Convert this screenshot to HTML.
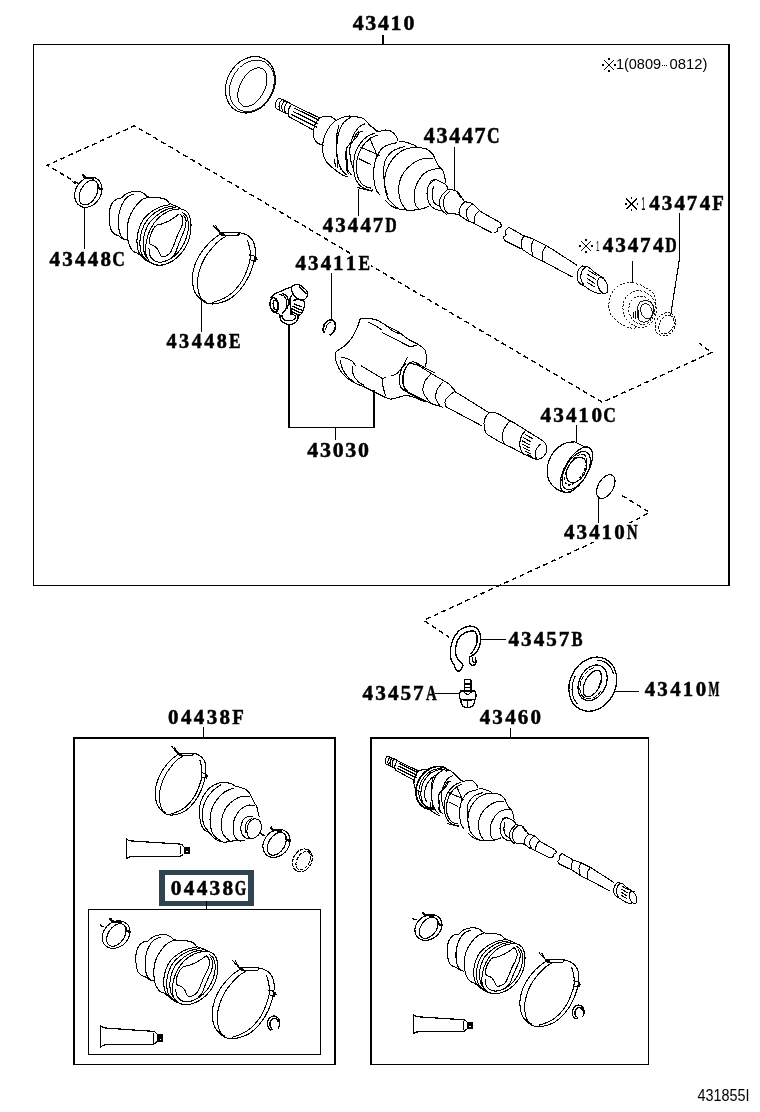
<!DOCTYPE html>
<html><head><meta charset="utf-8"><style>
html,body{margin:0;padding:0;background:#fff;}
svg{display:block;will-change:transform;}
path,ellipse,rect,circle{vector-effect:non-scaling-stroke;shape-rendering:crispEdges;}
</style></head><body>
<svg width="760" height="1112" viewBox="0 0 760 1112">
<rect width="760" height="1112" fill="#fff"/>

<g fill="#000">
<rect x="33" y="44" width="697" height="1"/>
<rect x="33" y="44" width="1" height="542"/>
<rect x="728" y="44" width="2" height="542"/>
<rect x="33" y="584.5" width="697" height="1.5"/>
<rect x="73" y="737" width="263" height="2"/>
<rect x="73" y="737" width="2" height="328"/>
<rect x="334" y="737" width="2" height="328"/>
<rect x="73" y="1063.5" width="263" height="1.5"/>
<rect x="370" y="737" width="279" height="2"/>
<rect x="370" y="737" width="1.5" height="328"/>
<rect x="648" y="737" width="1" height="328"/>
<rect x="370" y="1063.5" width="279" height="1.5"/>
<rect x="88" y="908.5" width="233" height="1.3"/>
<rect x="88" y="908.5" width="1.2" height="146.5"/>
<rect x="320" y="908.5" width="1.2" height="146.5"/>
<rect x="88" y="1053.8" width="233" height="1.2"/>
</g>
<path d="M159 870H254V906H159ZM165 875V901H248V875Z" fill="#2e4451" fill-rule="evenodd"/>


<g fill="#000">
<rect x="382" y="35" width="2" height="9"/>
<rect x="454" y="147" width="1" height="43"/>
<rect x="358" y="189" width="1" height="27"/>
<rect x="632" y="261" width="1" height="21"/>
<rect x="84" y="208" width="1" height="41"/>
<rect x="331" y="273.3" width="1" height="47"/>
<rect x="201" y="301" width="1" height="31"/>
<rect x="288" y="323.7" width="2" height="104.6"/>
<rect x="373" y="390" width="2" height="38.3"/>
<rect x="288" y="426.6" width="87" height="1.7"/>
<rect x="335" y="428" width="1" height="11.7"/>
<rect x="576" y="425" width="1" height="17"/>
<rect x="598" y="497" width="1" height="26.4"/>
<rect x="481" y="639" width="25" height="1"/>
<rect x="435" y="693" width="24.5" height="1"/>
<rect x="614" y="691" width="25" height="1"/>
<rect x="203" y="727" width="1" height="10"/>
<rect x="510" y="727.5" width="1" height="10"/>
<rect x="206" y="901" width="1" height="7.5"/>
</g>
<path d="M679.5 213V258.7L670.6 315.5" stroke="#000" stroke-width="1.1" fill="none"/>
<g stroke="#000" stroke-width="1.4" fill="none" stroke-dasharray="5 3.6">
<path d="M78.7 183.7L47 165.3L134.5 125.8L602.3 402.3L711.6 352.6L699.4 343.2"/>
<path d="M622 495.4L649.5 512.5L591.3 543.3L423.7 620.3L449.3 637.4"/>
</g>

<defs><g id="bootT" stroke="#000" fill="none" stroke-width="1.05"><path d="M18.75 14.38C19.48 13.75 21.35 11.6 23.12 10.62C24.9 9.65 27.19 8.85 29.38 8.5C31.56 8.15 34.44 8.21 36.25 8.5C38.06 8.79 39.21 9.62 40.25 10.25C41.29 10.88 41.29 11.62 42.5 12.25C43.71 12.88 45.42 13.71 47.5 14C49.58 14.29 52.71 13.73 55 14C57.29 14.27 59.69 14.83 61.25 15.62C62.81 16.42 63.33 17.98 64.38 18.75C65.42 19.52 66.25 19.73 67.5 20.25C68.75 20.77 70.52 21.29 71.88 21.88C73.23 22.46 75 23.44 75.62 23.75" />
<path d="M18.75 14.38C18.02 14.52 15.73 14.62 14.38 15.25C13.02 15.88 11.67 16.81 10.62 18.12C9.58 19.44 8.69 21.15 8.12 23.12C7.56 25.1 7.31 27.6 7.25 30C7.19 32.4 7.4 35.31 7.75 37.5C8.1 39.69 8.58 41.67 9.38 43.12C10.17 44.58 11.35 45.48 12.5 46.25C13.65 47.02 15 47.08 16.25 47.75C17.5 48.42 18.65 49.62 20 50.25C21.35 50.88 23.65 51.29 24.38 51.5" />
<path d="M30.62 10.62C29.58 11.1 26.25 11.94 24.38 13.5C22.5 15.06 20.69 17.46 19.38 20C18.06 22.54 17.06 25.83 16.5 28.75C15.94 31.67 15.88 34.79 16 37.5C16.12 40.21 16.58 42.96 17.25 45C17.92 47.04 18.81 48.67 20 49.75C21.19 50.83 23.65 51.21 24.38 51.5" />
<path d="M45 13.12C43.75 13.65 39.9 14.48 37.5 16.25C35.1 18.02 32.54 21.04 30.62 23.75C28.71 26.46 27.04 29.58 26 32.5C24.96 35.42 24.58 38.33 24.38 41.25C24.17 44.17 24.4 47.5 24.75 50C25.1 52.5 25.62 54.38 26.5 56.25C27.38 58.12 28.69 60.1 30 61.25C31.31 62.4 33.65 62.81 34.38 63.12" />
<path d="M34.38 63.12C34.9 63.54 36.35 64.69 37.5 65.62C38.65 66.56 39.79 67.77 41.25 68.75C42.71 69.73 44.38 70.71 46.25 71.5C48.12 72.29 50.42 73.17 52.5 73.5C54.58 73.83 57.71 73.5 58.75 73.5" />
<path d="M65 20C63.54 20.31 59.17 20.83 56.25 21.88C53.33 22.92 50.21 24.44 47.5 26.25C44.79 28.06 41.98 30.25 40 32.75C38.02 35.25 36.67 38.38 35.62 41.25C34.58 44.12 33.98 47.08 33.75 50C33.52 52.92 33.79 56.42 34.25 58.75C34.71 61.08 35.33 62.38 36.5 64C37.67 65.62 40.46 67.75 41.25 68.5" />
<path d="M68.12 21.25C66.56 21.58 61.77 22.17 58.75 23.25C55.73 24.33 52.67 25.88 50 27.75C47.33 29.62 44.71 31.92 42.75 34.5C40.79 37.08 39.29 40.25 38.25 43.25C37.21 46.25 36.67 49.5 36.5 52.5C36.33 55.5 36.67 58.92 37.25 61.25C37.83 63.58 38.88 65.12 40 66.5C41.12 67.88 43.33 69 44 69.5" />
<path d="M70.62 22.5C69.1 22.83 64.48 23.33 61.5 24.5C58.52 25.67 55.46 27.5 52.75 29.5C50.04 31.5 47.21 33.88 45.25 36.5C43.29 39.12 41.96 42.17 41 45.25C40.04 48.33 39.54 52.02 39.5 55C39.46 57.98 40 60.88 40.75 63.12C41.5 65.38 43.46 67.6 44 68.5" />
<path d="M75 23.75C75.83 24.06 78.58 24.58 80 25.62C81.42 26.67 82.67 28.02 83.5 30C84.33 31.98 84.92 34.58 85 37.5C85.08 40.42 84.73 44.38 84 47.5C83.27 50.62 82.12 53.5 80.62 56.25C79.12 59 77.19 61.71 75 64C72.81 66.29 70.21 68.42 67.5 70C64.79 71.58 61.25 72.88 58.75 73.5C56.25 74.12 54.48 74.08 52.5 73.75C50.52 73.42 48.38 72.54 46.88 71.5C45.38 70.46 44.31 69 43.5 67.5C42.69 66 42.21 64.58 42 62.5C41.79 60.42 41.92 57.5 42.25 55C42.58 52.5 43.12 50 44 47.5C44.88 45 46.08 42.33 47.5 40C48.92 37.67 50.62 35.42 52.5 33.5C54.38 31.58 56.46 29.92 58.75 28.5C61.04 27.08 63.54 25.79 66.25 25C68.96 24.21 73.54 23.96 75 23.75" />
<path d="M76.5 26.75C77.19 27.29 79.62 28.42 80.62 30C81.62 31.58 82.29 33.75 82.5 36.25C82.71 38.75 82.5 42.08 81.88 45C81.25 47.92 80.1 51.04 78.75 53.75C77.4 56.46 75.62 59.06 73.75 61.25C71.88 63.44 69.79 65.35 67.5 66.88C65.21 68.4 62.25 69.69 60 70.38C57.75 71.06 55.83 71.23 54 71C52.17 70.77 50.33 70 49 69C47.67 68 46.67 66.71 46 65C45.33 63.29 45.17 59.79 45 58.75" />
<path d="M74 28C74.42 28.46 76 29.38 76.5 30.75C77 32.12 77.21 34.46 77 36.25C76.79 38.04 76 39.79 75.25 41.5C74.5 43.21 73.38 44.67 72.5 46.5C71.62 48.33 70.83 50.5 70 52.5C69.17 54.5 68.33 56.75 67.5 58.5C66.67 60.25 66.04 61.83 65 63C63.96 64.17 62.54 64.96 61.25 65.5C59.96 66.04 58.25 66.58 57.25 66.25C56.25 65.92 55.88 64.54 55.25 63.5C54.62 62.46 54.29 61.08 53.5 60C52.71 58.92 51.5 57.71 50.5 57C49.5 56.29 48.33 56.29 47.5 55.75C46.67 55.21 45.71 55.08 45.5 53.75C45.29 52.42 45.62 49.79 46.25 47.75C46.88 45.71 48.21 43.08 49.25 41.5C50.29 39.92 51.08 39 52.5 38.25C53.92 37.5 55.83 37.62 57.75 37C59.67 36.38 62.04 35.46 64 34.5C65.96 33.54 67.83 32.33 69.5 31.25C71.17 30.17 73.25 28.54 74 28" />
<path d="M78 29.5C78.38 30.25 80.04 32.04 80.25 34C80.46 35.96 79.96 38.79 79.25 41.25C78.54 43.71 77.08 46.25 76 48.75C74.92 51.25 73.75 53.85 72.75 56.25C71.75 58.65 71.08 61.35 70 63.12C68.92 64.9 66.88 66.25 66.25 66.88" /></g><g id="clampS" stroke="#000" fill="none" stroke-width="1.1"><ellipse cx="88.3" cy="192.2" rx="16" ry="12.6" transform="rotate(-58 88.3 192.2)" />
<ellipse cx="88.6" cy="192.6" rx="13.3" ry="8.2" transform="rotate(-62 88.6 192.6)" />
<path d="M82.2 174.2C82.5 174.58 83.37 175.78 84 176.5C84.63 177.22 85.67 178.17 86 178.5" stroke-width="2.2"/>
<path d="M85.5 178 L92.5 178.4 L93 180" stroke-width="2"/>
<path d="M97.5 184.5 L98.5 188 L101.5 189.5 L102.5 188" stroke-width="2.2"/>
<path d="M72.2 181.3 L74.5 183 L76.5 183.2" stroke-width="1.2"/></g><g id="clampB" stroke="#000" fill="none" stroke-width="1.05"><path d="M238.75 232.5C239.58 232.71 242.08 233.12 243.75 233.75C245.42 234.38 247.19 235 248.75 236.25C250.31 237.5 252.08 239.38 253.12 241.25C254.17 243.12 254.69 245 255 247.5C255.31 250 255.31 253.33 255 256.25C254.69 259.17 254.06 261.88 253.12 265C252.19 268.12 250.94 271.67 249.38 275C247.81 278.33 245.73 282.08 243.75 285C241.77 287.92 239.79 290.21 237.5 292.5C235.21 294.79 232.71 297.08 230 298.75C227.29 300.42 224.17 301.62 221.25 302.5C218.33 303.38 215.21 304 212.5 304C209.79 304 207.29 303.58 205 302.5C202.71 301.42 200.52 299.38 198.75 297.5C196.98 295.62 195.42 293.96 194.38 291.25C193.33 288.54 192.71 284.58 192.5 281.25C192.29 277.92 192.29 275 193.12 271.25C193.96 267.5 195.52 262.71 197.5 258.75C199.48 254.79 202.29 250.83 205 247.5C207.71 244.17 211.04 241.04 213.75 238.75C216.46 236.46 220 234.58 221.25 233.75" />
<path d="M226.25 236.25C225.21 236.88 222.29 238.12 220 240C217.71 241.88 215 244.58 212.5 247.5C210 250.42 207.08 253.96 205 257.5C202.92 261.04 201.25 265 200 268.75C198.75 272.5 197.81 276.46 197.5 280C197.19 283.54 197.6 287.08 198.12 290C198.65 292.92 199.38 295.52 200.62 297.5C201.88 299.48 204.79 301.15 205.62 301.88" />
<path d="M247.5 240C247.92 241.67 249.58 246.67 250 250C250.42 253.33 250.42 256.88 250 260C249.58 263.12 248.75 265.42 247.5 268.75C246.25 272.08 244.58 276.46 242.5 280C240.42 283.54 237.5 287.29 235 290C232.5 292.71 230 294.58 227.5 296.25C225 297.92 222.5 298.96 220 300C217.5 301.04 213.75 302.08 212.5 302.5" />
<path d="M221.25 232.75 L240 232.5" />
<path d="M221.25 235.25 L238.75 235" />
<path d="M238.75 232.5 L239.38 235" />
<path d="M221.25 233.75C220.62 233.12 218.71 231.21 217.5 230C216.29 228.79 214.79 227.42 214 226.5C213.21 225.58 212.96 224.83 212.75 224.5" />
<path d="M215.62 225.25C215.94 225.79 216.81 227.54 217.5 228.5C218.19 229.46 219.38 230.58 219.75 231" />
<path d="M249.38 255 L255 256.25 L255.62 261.25 L250.62 260.62" /><path d="M220 232.5 L224.38 235" stroke-width="2.5"/><path d="M255 256.88 L256.5 260" stroke-width="2.5"/></g><g id="tube" stroke="#000" fill="none" stroke-width="1.2"><path d="M100.4 1025.4 L100.4 1047.6" />
<path d="M100.4 1025.6C100.75 1025.87 101.73 1026.8 102.5 1027.2C103.27 1027.6 104.58 1027.87 105 1028L152.3 1031.3" />
<path d="M100.4 1047.4C100.75 1047.1 101.73 1046.02 102.5 1045.6C103.27 1045.18 104.58 1045.02 105 1044.9L152.3 1044.5" />
<path d="M152.3 1031.3C152.75 1031.42 154.28 1031.55 155 1032C155.72 1032.45 156.33 1033.67 156.6 1034" />
<path d="M152.3 1044.5C152.75 1044.33 154.28 1044 155 1043.5C155.72 1043 156.33 1041.83 156.6 1041.5" />
<path d="M153.4 1033 L153.4 1042.5" /><rect x="157.2" y="1034.3" width="5.9" height="7.4" fill="#000" stroke="none"/><rect x="159.5" y="1038.5" width="1.2" height="1.2" fill="#fff" stroke="none"/></g><g id="shaftA" stroke="#000" fill="none" stroke-width="1.05"><path d="M280.25 98.5C279.83 98.58 278.46 98.44 277.75 99C277.04 99.56 276.42 100.77 276 101.88C275.58 102.98 275.21 104.48 275.25 105.62C275.29 106.77 276.08 108.23 276.25 108.75" />
<path d="M280.25 98.5 L290.62 103.5" />
<path d="M276.25 108.75 L287.5 114" />
<path d="M281.88 99.75C281.52 100.21 280.23 101.42 279.75 102.5C279.27 103.58 279 105.04 279 106.25C279 107.46 279.62 109.17 279.75 109.75" />
<path d="M284.62 100.99C284.27 101.45 282.98 102.65 282.5 103.74C282.02 104.82 281.75 106.28 281.75 107.49C281.75 108.7 282.38 110.4 282.5 110.99" />
<path d="M287.38 102.22C287.02 102.68 285.73 103.89 285.25 104.97C284.77 106.06 284.5 107.52 284.5 108.72C284.5 109.93 285.12 111.64 285.25 112.22" />
<path d="M291.5 104.38C291.15 104.9 289.94 106.25 289.38 107.5C288.81 108.75 288.23 110.38 288.12 111.88C288.02 113.38 288.65 115.73 288.75 116.5" />
<path d="M291.5 104.38 L320 118.12" />
<path d="M288.75 116.5 L314.38 130.62" />
<path d="M293.75 107.75 L319 120.25" />
<path d="M292.75 111.25 L318.12 123.75" />
<path d="M291.5 114.5 L316.88 127.25" />
<path d="M319 118.5C319.58 118.21 320.88 117.12 322.5 116.75C324.12 116.38 326.88 116 328.75 116.25C330.62 116.5 332.6 117.52 333.75 118.25C334.9 118.98 335.31 120.23 335.62 120.62" />
<path d="M319 118.5C318.38 119.38 316.17 121.62 315.25 123.75C314.33 125.88 313.71 128.85 313.5 131.25C313.29 133.65 313.44 136.25 314 138.12C314.56 140 315.67 141.4 316.88 142.5C318.08 143.6 320.1 144.29 321.25 144.75C322.4 145.21 323.33 145.17 323.75 145.25" />
<path d="M335.62 120.62C334.69 121.56 331.77 123.85 330 126.25C328.23 128.65 326.25 131.67 325 135C323.75 138.33 322.71 142.71 322.5 146.25C322.29 149.79 322.92 153.44 323.75 156.25C324.58 159.06 325.83 161.04 327.5 163.12C329.17 165.21 331.88 167.19 333.75 168.75C335.62 170.31 337.08 171.35 338.75 172.5C340.42 173.65 342.29 174.9 343.75 175.62C345.21 176.35 346.88 176.67 347.5 176.88" />
<path d="M335.62 120.62C336.77 120.1 340.31 118.27 342.5 117.5C344.69 116.73 346.46 116.1 348.75 116C351.04 115.9 354.17 116.62 356.25 116.88C358.33 117.12 359.79 116.98 361.25 117.5C362.71 118.02 363.75 118.96 365 120C366.25 121.04 367.08 122.08 368.75 123.75C370.42 125.42 373.44 128.65 375 130C376.56 131.35 377.6 131.56 378.12 131.88" />
<path d="M351.25 116.88C350 117.81 345.83 119.9 343.75 122.5C341.67 125.1 339.9 128.54 338.75 132.5C337.6 136.46 337.08 141.88 336.88 146.25C336.67 150.62 336.77 155 337.5 158.75C338.23 162.5 339.79 166.04 341.25 168.75C342.71 171.46 345.42 173.96 346.25 175" />
<path d="M362.5 131.25C361.92 131.5 360.04 131.67 359 132.75C357.96 133.83 357.54 136.12 356.25 137.75C354.96 139.38 352.79 140.88 351.25 142.5C349.71 144.12 347.83 145.42 347 147.5C346.17 149.58 346.17 152.5 346.25 155C346.33 157.5 347.33 160.21 347.5 162.5C347.67 164.79 346.62 166.67 347.25 168.75C347.88 170.83 350.58 173.96 351.25 175" />
<path d="M365 123.75C364.17 124.17 361.56 125 360 126.25C358.44 127.5 356.77 129.58 355.62 131.25C354.48 132.92 354.02 133.96 353.12 136.25C352.23 138.54 350.77 141.88 350.25 145C349.73 148.12 349.83 152.08 350 155C350.17 157.92 350.62 160 351.25 162.5C351.88 165 353.33 168.75 353.75 170" />
<path d="M375 133.12C373.75 133.65 370 134.48 367.5 136.25C365 138.02 362.08 140.83 360 143.75C357.92 146.67 356.04 150.42 355 153.75C353.96 157.08 353.85 160.21 353.75 163.75C353.65 167.29 353.75 171.88 354.38 175C355 178.12 356.15 180.42 357.5 182.5C358.85 184.58 360.62 186.25 362.5 187.5C364.38 188.75 367.08 189.58 368.75 190C370.42 190.42 371.88 190 372.5 190" />
<path d="M377.5 135C376.25 135.62 372.5 136.88 370 138.75C367.5 140.62 364.58 143.12 362.5 146.25C360.42 149.38 358.54 153.96 357.5 157.5C356.46 161.04 356.25 164.38 356.25 167.5C356.25 170.62 356.67 173.65 357.5 176.25C358.33 178.85 359.79 181.35 361.25 183.12C362.71 184.9 364.58 186.04 366.25 186.88C367.92 187.71 370.42 187.92 371.25 188.12" />
<path d="M360 146.88 L380 155.62" />
<path d="M359 158.75 L371.25 164.75" />
<path d="M367.5 123.75 L378.12 131.5" />
<path d="M357.5 187.5 L372.5 191.25" />
<path d="M378.12 131.88C379.27 131.56 382.81 130.1 385 130C387.19 129.9 389.38 130.21 391.25 131.25C393.12 132.29 395.1 134.58 396.25 136.25C397.4 137.92 397.81 140.42 398.12 141.25" />
<path d="M397.5 142.5C395.42 143.12 388.33 144.17 385 146.25C381.67 148.33 379.33 151.46 377.5 155C375.67 158.54 374.58 163.33 374 167.5C373.42 171.67 373.62 176.25 374 180C374.38 183.75 375.25 187.5 376.25 190C377.25 192.5 379.38 194.17 380 195" />
<path d="M405 146.25C402.92 147.08 395.83 148.75 392.5 151.25C389.17 153.75 386.46 157.5 385 161.25C383.54 165 383.75 169.58 383.75 173.75C383.75 177.92 384.38 182.71 385 186.25C385.62 189.79 387.08 193.54 387.5 195" />
<path d="M370 137.5C370.42 138.75 371.67 142.92 372.5 145C373.33 147.08 374.17 147.92 375 150C375.83 152.08 377.08 156.25 377.5 157.5" />
<path d="M334.7 158.9 L335.3 167.4" />
<path d="M337.4 156.8 L337.9 168.4" />
<path d="M339 125.3C338.63 126.87 337.25 131.02 336.8 134.7C336.35 138.38 336.2 143.37 336.3 147.4C336.4 151.43 336.62 155.22 337.4 158.9C338.18 162.58 340.4 167.73 341 169.5" />
<path d="M358.9 131.6C358.38 132.12 356.85 132.95 355.8 134.7C354.75 136.45 353.65 140.52 352.6 142.1C351.55 143.68 350.55 142.97 349.5 144.2C348.45 145.43 347 147.4 346.3 149.5C345.6 151.6 345.22 154.52 345.3 156.8C345.38 159.08 346.63 161.27 346.8 163.2C346.97 165.13 346.03 166.65 346.3 168.4C346.57 170.15 348.05 172.82 348.4 173.7" />
<path d="M398.75 141.88C399.38 141.77 400 140.73 402.5 141.25C405 141.77 411.25 143.96 413.75 145C416.25 146.04 415.42 146.88 417.5 147.5C419.58 148.12 423.75 147.71 426.25 148.75C428.75 149.79 431.04 152.08 432.5 153.75C433.96 155.42 433.96 156.67 435 158.75C436.04 160.83 437.5 164.38 438.75 166.25C440 168.12 441.56 168.54 442.5 170C443.44 171.46 443.85 172.92 444.38 175C444.9 177.08 445.42 181.25 445.62 182.5" />
<path d="M385 200C385.83 200.83 387.92 203.54 390 205C392.08 206.46 394.79 207.92 397.5 208.75C400.21 209.58 403.33 209.79 406.25 210C409.17 210.21 412.29 210.21 415 210C417.71 209.79 420.21 209.38 422.5 208.75C424.79 208.12 427.71 206.67 428.75 206.25" />
<path d="M417.5 147.5C415.62 147.71 409.79 147.5 406.25 148.75C402.71 150 399.17 152.29 396.25 155C393.33 157.71 390.62 161.46 388.75 165C386.88 168.54 385.62 172.5 385 176.25C384.38 180 384.58 183.96 385 187.5C385.42 191.04 386.04 194.58 387.5 197.5C388.96 200.42 391.88 203.12 393.75 205C395.62 206.88 397.92 208.12 398.75 208.75" />
<path d="M432.5 158.75C430.83 158.75 425.83 157.92 422.5 158.75C419.17 159.58 415.62 161.46 412.5 163.75C409.38 166.04 405.94 169.38 403.75 172.5C401.56 175.62 400.21 179.17 399.38 182.5C398.54 185.83 398.44 189.17 398.75 192.5C399.06 195.83 400 199.58 401.25 202.5C402.5 205.42 405.42 208.75 406.25 210" />
<path d="M441.25 168.75C439.79 168.85 435.42 168.54 432.5 169.38C429.58 170.21 426.25 171.56 423.75 173.75C421.25 175.94 419.06 179.58 417.5 182.5C415.94 185.42 414.9 188.33 414.38 191.25C413.85 194.17 414.06 197.5 414.38 200C414.69 202.5 415.31 204.58 416.25 206.25C417.19 207.92 419.38 209.38 420 210" />
<path d="M434.9 179.6C433.9 180.48 430.22 182.6 428.9 184.9C427.58 187.2 427.1 190.67 427 193.4C426.9 196.13 427.53 199.1 428.3 201.3C429.07 203.5 431.05 205.72 431.6 206.6" />
<path d="M433.5 186C433.28 187.33 432.25 191.5 432.2 194C432.15 196.5 432.57 199.23 433.2 201C433.83 202.77 435.03 203.83 436 204.6C436.97 205.37 438.5 205.43 439 205.6" />
<path d="M430 181.6C430.82 181.27 433.22 179.6 434.9 179.6C436.58 179.6 438.23 180.72 440.1 181.6C441.97 182.48 444.78 183.58 446.1 184.9C447.42 186.22 447.68 188.73 448 189.5" />
<path d="M446.7 190.1C445.82 191.1 442.6 194.02 441.4 196.1C440.2 198.18 439.5 200.3 439.5 202.6C439.5 204.9 440.2 207.92 441.4 209.9C442.6 211.88 445.82 213.73 446.7 214.5" />
<path d="M450 190.8C449.12 191.78 445.8 194.4 444.7 196.7C443.6 199 443.17 202.08 443.4 204.6C443.63 207.12 445.08 210.27 446.1 211.8C447.12 213.33 448.93 213.47 449.5 213.8" />
<path d="M448 189.1C448.67 189.22 450.68 189.52 452 189.8C453.32 190.08 454.8 189.98 455.9 190.8C457 191.62 457.75 193.5 458.6 194.7C459.45 195.9 460.6 197.45 461 198" />
<path d="M431.6 206.6C432.33 207.08 434.37 208.85 436 209.5C437.63 210.15 440.5 210.33 441.4 210.5" />
<path d="M457.2 191.4C457.83 192.17 459.78 194.35 461 196C462.22 197.65 462.58 200.01 464.5 201.3C466.42 202.59 469.92 202.09 472.5 203.75C475.08 205.41 478.75 210 480 211.25 L500 222.5" />
<path d="M449.5 213.8C450.9 213.92 455.18 213.52 457.9 214.5C460.62 215.48 463.37 218.32 465.8 219.7C468.23 221.07 471.38 222.24 472.5 222.75 L492.5 233.1" />
<path d="M500 222.5C500.25 223.12 501.81 225.31 501.5 226.25C501.19 227.19 498.83 227.29 498.12 228.12C497.42 228.96 497.98 230.42 497.25 231.25C496.52 232.08 494.33 232.81 493.75 233.12" />
<path d="M465 201.88C464.27 202.6 461.62 204.48 460.62 206.25C459.62 208.02 458.85 210.62 459 212.5C459.15 214.38 461.08 216.67 461.5 217.5" />
<path d="M472.5 204C471.62 204.79 468.29 206.92 467.25 208.75C466.21 210.58 466.04 213.12 466.25 215C466.46 216.88 468.12 219.17 468.5 220" />
<path d="M480 210.25C479.21 211.08 476.25 213.17 475.25 215.25C474.25 217.33 474.21 221.5 474 222.75" />
<path d="M508.68 227.11C508.16 227.71 505.97 229.42 505.53 230.74C505.08 232.05 506.34 233.9 506 235C505.66 236.11 503.63 236.4 503.47 237.37C503.32 238.34 504.79 240.26 505.05 240.84" />
<path d="M508.68 227.11 L523.69 235.79 L533.16 238.95 L545.79 245.26 L552.11 249.21 L577.37 265.48" />
<path d="M505.05 240.84 L522.11 249.21 L533.95 257.11 L542.63 261.05 L572.64 277.16" />
<path d="M523.69 235.79C523.29 236.84 521.58 239.87 521.32 242.11C521.05 244.34 521.97 248.03 522.11 249.21" />
<path d="M533.95 238.95C533.5 240.26 531.4 243.82 531.26 246.84C531.13 249.87 532.84 255.4 533.16 257.11" />
<path d="M545.79 246.05C545.21 247.24 542.79 250.66 542.32 253.16C541.84 255.66 542.84 259.74 542.95 261.05" />
<path d="M582 266C581.42 266.67 579.33 268.33 578.5 270C577.67 271.67 577.08 274.17 577 276C576.92 277.83 577.42 279.67 578 281C578.58 282.33 580.08 283.5 580.5 284" />
<path d="M585.5 267C584.92 267.67 582.78 269.33 582 271C581.22 272.67 580.8 275.17 580.8 277C580.8 278.83 581.38 280.58 582 282C582.62 283.42 584.08 284.92 584.5 285.5" />
<path d="M582 266C582.67 266.07 584.8 266.13 586 266.4C587.2 266.67 587.67 266.53 589.2 267.6C590.73 268.67 593.12 271.23 595.2 272.8C597.28 274.37 600.15 276.1 601.7 277C603.25 277.9 604.03 278 604.5 278.2" />
<path d="M580.5 284C581.18 284.37 582.77 285.07 584.6 286.2C586.43 287.33 589.2 289.57 591.5 290.8C593.8 292.03 596.82 293.15 598.4 293.6C599.98 294.05 600.57 293.52 601 293.5" />
<path d="M588 270.5 L597 275.5" />
<path d="M587.5 274.5 L596 279.5" />
<path d="M587 278.5 L595 283.5" />
<path d="M587.5 282.5 L594.5 287" /><ellipse cx="602.7" cy="285.6" rx="4.6" ry="8.5" transform="rotate(-20 602.7 285.6)" /></g></defs><use href="#bootT" transform="translate(440.00,919.55) scale(1.0000,1.0061)"/><use href="#shaftA" transform="translate(0.00,0.00) scale(1.0000,1.0000)"/><use href="#shaftA" transform="translate(176.58,681.99) scale(0.7574,0.7550)"/><g stroke="#000" fill="none"><path d="M433.69 809.13C433.14 809.15 431.48 809.33 430.41 809.26C429.34 809.19 428.27 809.01 427.26 808.73C426.26 808.44 425.27 808.04 424.36 807.55C423.44 807.06 422.57 806.45 421.77 805.77C420.98 805.08 420.24 804.29 419.6 803.43C418.95 802.57 418.38 801.62 417.9 800.61C417.42 799.61 417.02 798.52 416.72 797.4C416.42 796.28 416.21 795.09 416.11 793.89C416 792.7 415.99 791.45 416.07 790.2C416.16 788.96 416.35 787.69 416.62 786.44C416.9 785.2 417.28 783.94 417.74 782.73C418.2 781.51 418.76 780.31 419.39 779.17C420.01 778.03 420.73 776.92 421.51 775.88C422.29 774.85 423.15 773.86 424.05 772.97C424.96 772.07 425.93 771.24 426.93 770.52C427.93 769.79 428.99 769.14 430.05 768.6C431.12 768.06 432.23 767.62 433.32 767.28C434.42 766.95 435.55 766.72 436.65 766.6C437.74 766.49 438.85 766.48 439.91 766.58C440.98 766.69 442.03 766.9 443.03 767.22C444.02 767.54 444.99 767.97 445.89 768.5C446.78 769.03 447.99 770.06 448.41 770.38" stroke-width="1.7"/><path d="M433.19 807.8C432.7 807.77 431.21 807.79 430.27 807.64C429.32 807.48 428.39 807.22 427.52 806.87C426.64 806.52 425.8 806.06 425.03 805.52C424.26 804.98 423.53 804.34 422.88 803.63C422.23 802.93 421.64 802.13 421.14 801.27C420.64 800.41 420.21 799.48 419.86 798.5C419.52 797.52 419.26 796.48 419.08 795.41C418.91 794.34 418.83 793.22 418.83 792.1C418.84 790.97 418.93 789.81 419.11 788.67C419.3 787.52 419.57 786.36 419.92 785.22C420.27 784.09 420.71 782.96 421.23 781.88C421.74 780.8 422.33 779.73 422.99 778.73C423.64 777.74 424.38 776.77 425.16 775.89C425.94 775 426.78 774.17 427.66 773.43C428.54 772.69 429.47 772.01 430.42 771.44C431.37 770.86 432.36 770.36 433.35 769.97C434.34 769.58 435.36 769.27 436.37 769.08C437.37 768.88 438.38 768.78 439.36 768.78C440.34 768.79 441.32 768.9 442.25 769.1C443.18 769.31 444.09 769.62 444.94 770.02C445.79 770.42 446.95 771.26 447.35 771.51" stroke-width="1.0"/><path d="M426.68 801.68C426.5 801.35 425.89 800.4 425.59 799.68C425.29 798.97 425.05 798.19 424.88 797.38C424.7 796.57 424.59 795.71 424.55 794.83C424.51 793.96 424.54 793.04 424.63 792.13C424.73 791.21 424.89 790.27 425.11 789.34C425.34 788.41 425.63 787.47 425.98 786.56C426.33 785.65 426.74 784.74 427.2 783.87C427.67 783 428.19 782.14 428.75 781.35C429.31 780.55 429.93 779.78 430.57 779.07C431.22 778.37 431.91 777.71 432.61 777.12C433.32 776.53 434.07 775.99 434.81 775.54C435.56 775.08 436.34 774.69 437.1 774.38C437.87 774.07 439.03 773.8 439.41 773.68" stroke-width="1.0"/></g><use href="#bootT" transform="translate(101.57,182.01) scale(1.0521,1.1280)"/><use href="#bootT" transform="translate(128.15,925.82) scale(1.0547,1.0682)"/><use href="#clampS" transform="translate(0.00,0.00) scale(1.0000,1.0000)"/><use href="#clampS" transform="translate(26.17,759.58) scale(1.0179,0.9106)"/><use href="#clampS" transform="translate(340.92,763.40) scale(0.9911,0.8537)"/><use href="#clampS" transform="translate(188.52,665.93) scale(0.9964,0.9236)"/><use href="#clampB" transform="translate(0.00,0.00) scale(1.0000,1.0000)"/><use href="#clampB" transform="translate(22.95,736.97) scale(0.9842,0.9926)"/><use href="#clampB" transform="translate(339.56,742.28) scale(0.9374,0.9355)"/><use href="#clampB" transform="translate(0.24,551.11) scale(0.8060,0.8685)"/><use href="#tube" transform="translate(0.00,0.00) scale(1.0000,1.0000)"/><use href="#tube" transform="translate(24.16,-120.05) scale(1.0174,0.9348)"/><use href="#tube" transform="translate(318.33,100.51) scale(0.9477,0.8913)"/><g stroke="#000" fill="none" stroke-width="1.05"><ellipse cx="302.4" cy="860.4" rx="12" ry="9.2" transform="rotate(-62 302.4 860.4)" stroke-dasharray="4 0.8"/>
<ellipse cx="303.3" cy="860.6" rx="10" ry="6.2" transform="rotate(-60 303.3 860.6)" stroke-dasharray="4 1"/><path d="M203.88 794.74C204.87 793.59 207.5 789.73 209.81 787.83C212.11 785.94 215.24 784.3 217.7 783.39C220.17 782.49 222.31 782.32 224.62 782.4C226.92 782.49 229.72 783.23 231.53 783.88C233.33 784.54 233.99 785.78 235.47 786.35C236.95 786.93 238.6 786.76 240.41 787.34C242.22 787.92 244.77 788.74 246.33 789.81C247.9 790.88 248.88 792.44 249.79 793.76C250.69 795.07 251.02 796.22 251.76 797.7C252.5 799.19 253.41 801.16 254.23 802.64C255.05 804.12 256.04 804.94 256.7 806.59C257.36 808.23 257.77 810.78 258.18 812.51C258.59 814.24 259 816.21 259.17 816.95" />
<path d="M203.88 794.74C203.31 796.06 201.17 800.01 200.43 802.64C199.69 805.27 199.52 807.91 199.44 810.54C199.36 813.17 199.61 815.97 199.94 818.44C200.26 820.9 200.59 823.37 201.42 825.35C202.24 827.32 203.47 828.97 204.87 830.28C206.27 831.6 208.41 832.09 209.81 833.24C211.21 834.39 211.95 835.96 213.26 837.19C214.58 838.43 215.98 839.82 217.7 840.65C219.43 841.47 221.65 841.96 223.63 842.13C225.6 842.29 227.74 841.88 229.55 841.63C231.36 841.39 232.68 840.76 234.49 840.65C236.3 840.53 238.6 841.03 240.41 840.94C242.22 840.86 244.52 840.28 245.35 840.15" />
<path d="M220.86 784.67C219.51 785.69 215.24 788.29 212.77 790.79C210.3 793.3 207.73 796.55 206.06 799.68C204.38 802.81 203.29 806.42 202.7 809.55C202.11 812.68 202.21 815.64 202.5 818.44C202.8 821.23 203.26 823.95 204.48 826.33C205.69 828.72 208.92 831.68 209.81 832.75" />
<path d="M234.49 787.83C232.84 788.52 227.54 790 224.62 791.98C221.69 793.95 219.09 796.75 216.92 799.68C214.74 802.61 212.74 806.26 211.58 809.55C210.43 812.84 210.04 815.97 210 819.42C209.97 822.88 210.6 827.45 211.39 830.28C212.18 833.11 213.16 834.62 214.74 836.4C216.32 838.18 219.84 840.19 220.86 840.94" />
<path d="M250.28 796.92C248.97 796.8 245.02 795.76 242.38 796.22C239.75 796.68 236.95 798.08 234.49 799.68C232.02 801.28 229.52 803.33 227.58 805.8C225.64 808.27 223.89 811.39 222.84 814.49C221.79 817.58 221.29 821.23 221.26 824.36C221.23 827.48 221.75 830.91 222.64 833.24C223.53 835.58 225.27 837.03 226.59 838.38C227.91 839.73 229.88 840.84 230.54 841.34" />
<path d="M255.41 805.8C254.23 805.68 250.61 804.65 248.31 805.11C246 805.57 243.54 807 241.59 808.56C239.65 810.13 237.97 812.35 236.66 814.49C235.34 816.63 234.29 818.76 233.7 821.4C233.1 824.03 232.97 827.78 233.1 830.28C233.24 832.78 233.73 834.76 234.49 836.4C235.24 838.05 236.49 839.36 237.65 840.15C238.8 840.94 240.77 840.98 241.4 841.14" />
<path d="M253.24 816.95C252.34 816.87 249.49 815.97 247.81 816.46C246.14 816.95 244.34 818.11 243.17 819.92C242.01 821.73 240.97 824.93 240.8 827.32C240.64 829.71 241.27 832.42 242.19 834.23C243.11 836.04 244.98 837.44 246.33 838.18C247.68 838.92 249.62 838.59 250.28 838.67" />
<path d="M254.23 818.44C255.05 818.73 257.98 819.06 259.17 820.21C260.35 821.36 261.17 823.34 261.34 825.35C261.5 827.35 261.04 830.31 260.15 832.26C259.26 834.2 257.57 835.97 256.01 836.99C254.44 838.01 252.19 838.64 250.77 838.38C249.36 838.11 248.13 837.01 247.52 835.41C246.91 833.82 246.83 831.01 247.12 828.8C247.42 826.6 248.11 823.91 249.29 822.19C250.48 820.46 253.41 819.06 254.23 818.44" />
<path d="M251.76 818.44C251.02 818.93 248.39 819.92 247.32 821.4C246.25 822.88 245.59 825.35 245.35 827.32C245.1 829.29 245.76 832.26 245.84 833.24" /></g><g stroke="#000" fill="none" stroke-width="1.05"><ellipse cx="250.4" cy="84.8" rx="29.4" ry="23.5" transform="rotate(-62 250.4 84.8)" stroke-width="1.1"/>
<ellipse cx="251.9" cy="85.8" rx="27" ry="21" transform="rotate(-62 251.9 85.8)" stroke-width="0.9"/>
<ellipse cx="252.4" cy="87.2" rx="21" ry="12.2" transform="rotate(-62 252.4 87.2)" stroke-width="1.0"/>
<path d="M360.46 318.03C361.79 318.07 365.65 317.95 368.42 318.32C371.2 318.68 374.21 319.04 377.11 320.2C380 321.36 383.14 323.82 385.79 325.26C388.44 326.71 390.61 327.56 393.03 328.88C395.44 330.21 397.61 331.41 400.26 333.22C402.92 335.03 406.05 337.93 408.95 339.74C411.84 341.55 414.98 342.39 417.63 344.08C420.29 345.77 423.42 347.46 424.87 349.87C426.32 352.28 426.2 355.66 426.32 358.55C426.44 361.45 425.71 365.79 425.59 367.24" />
<path d="M360.46 318.03C359.98 319.47 358.89 323.57 357.57 326.71C356.24 329.85 354.55 333.71 352.5 336.84C350.45 339.98 347.92 343.11 345.26 345.53C342.61 347.94 338.27 349.63 336.58 351.32C334.89 353.01 335.13 353.73 335.13 355.66C335.13 357.59 335.61 360.24 336.58 362.9C337.54 365.55 338.99 368.93 340.92 371.58C342.85 374.23 345.5 376.77 348.16 378.82C350.81 380.87 353.95 382.44 356.84 383.88C359.74 385.33 362.63 386.17 365.53 387.5C368.42 388.83 371.32 390.4 374.21 391.84C377.11 393.29 380.24 394.98 382.9 396.19C385.55 397.39 387.72 398.84 390.13 399.08C392.54 399.32 394.72 398.24 397.37 397.63C400.02 397.03 403.16 395.46 406.05 395.46C408.95 395.46 411.6 396.55 414.74 397.63C417.87 398.72 423.18 401.25 424.87 401.97" />
<path d="M340.92 357.11C341.89 357.35 344.78 357.83 346.71 358.55C348.64 359.28 351.05 360.24 352.5 361.45C353.95 362.65 354.91 365.07 355.4 365.79" />
<path d="M340.2 360C340.56 361.45 341.04 365.79 342.37 368.69C343.7 371.58 346.23 375.2 348.16 377.37C350.09 379.54 352.98 380.99 353.95 381.71" />
<path d="M352.5 365.79C352.62 367.24 352.26 371.82 353.22 374.47C354.19 377.13 356.48 379.9 358.29 381.71C360.1 383.52 363.11 384.73 364.08 385.33" />
<path d="M361.18 365.79 L382.9 378.82 L386.51 376.65" />
<path d="M382.9 378.82C382.9 380.02 382.41 383.16 382.9 386.05C383.38 388.95 385.31 394.5 385.79 396.19" />
<path d="M382.17 332.5 L410.4 346.97" />
<path d="M368.42 322.37C369.87 323.09 374.89 325.46 377.11 326.71C379.33 327.97 380.97 329.36 381.74 329.9" />
<path d="M407.5 357.11C406.78 358.55 404.85 363.14 403.16 365.79C401.47 368.44 399.3 371.34 397.37 373.03C395.44 374.72 392.54 375.44 391.58 375.92" />
<path d="M410.4 346.97C411.6 346.61 416.43 345.17 417.63 344.8" />
<path d="M385.79 325.26C387 326.23 390.61 329.61 393.03 331.05C395.44 332.5 399.06 333.47 400.26 333.95" />
<path d="M406.05 363.62C405.33 364.46 402.8 366.39 401.71 368.69C400.63 370.98 399.78 374.47 399.54 377.37C399.3 380.26 399.54 383.88 400.26 386.05C400.99 388.22 403.28 389.67 403.88 390.4" />
<path d="M409.67 362.9C408.95 363.86 406.42 366.27 405.33 368.69C404.24 371.1 403.4 374.47 403.16 377.37C402.92 380.26 403.16 383.76 403.88 386.05C404.61 388.35 406.9 390.28 407.5 391.12" />
<path d="M408.95 362.9C409.91 362.77 411.84 361.21 414.74 362.17C417.63 363.14 422.94 366.88 426.32 368.69C429.69 370.49 433.55 372.3 435 373.03" />
<path d="M403.88 390.4C406.17 391.6 412.45 395.22 417.63 397.63C422.82 400.05 432.11 403.66 435 404.87" />
<path d="M408.42 363.68C409.82 363.86 413.68 363.51 416.84 364.74C420 365.96 423.86 368.95 427.37 371.05C430.88 373.16 434.39 375.26 437.89 377.37C441.4 379.47 445.54 381.4 448.42 383.68C451.3 385.96 454.04 389.82 455.16 391.05" />
<path d="M408.42 392.11C410.53 393.16 417.19 396.49 421.05 398.42C424.91 400.35 427.89 402.21 431.58 403.68C435.26 405.16 441.23 406.67 443.16 407.26" />
<path d="M408.42 363.68C407.65 365.09 404.77 369.12 403.79 372.11C402.81 375.09 402.28 378.6 402.53 381.58C402.77 384.56 404.28 388.25 405.26 390C406.25 391.75 407.89 391.75 408.42 392.11" />
<path d="M431.58 373.16C430.46 374.56 426.25 378.42 424.84 381.58C423.44 384.74 422.39 388.77 423.16 392.11C423.93 395.44 428.42 400 429.47 401.58" />
<path d="M443.16 381.58C442.14 382.98 438.28 387.19 437.05 390C435.82 392.81 435.3 395.79 435.79 398.42C436.28 401.05 439.3 404.56 440 405.79" />
<path d="M455.16 391.05C454.21 391.75 451.12 393.68 449.47 395.26C447.82 396.84 445.96 398.67 445.26 400.53C444.56 402.39 445.26 405.44 445.26 406.42" />
<path d="M455.16 391.68 L488.42 412.32" />
<path d="M445.26 406.42 L482.53 426.21" />
<path d="M488.42 413.16C487.79 414.21 485.33 417.02 484.63 419.47C483.93 421.93 483.86 425.44 484.21 427.89C484.56 430.35 486.32 433.16 486.74 434.21" />
<path d="M488.42 412.74C489.12 412.67 490.88 412.07 492.63 412.32C494.39 412.56 496.14 412.84 498.95 414.21C501.75 415.58 506.84 419.05 509.47 420.53C512.11 422 513.86 422.63 514.74 423.05" />
<path d="M486.74 434.21C489.12 435.61 496.39 440.18 501.05 442.63C505.72 445.09 512.46 447.89 514.74 448.95" />
<path d="M509.47 421.16C508.49 422.63 504.77 427.12 503.58 430C502.39 432.88 502.18 436.11 502.32 438.42C502.46 440.74 504.07 442.98 504.42 443.89" />
<path d="M513.7 422.6C515.8 423.9 522.58 428.08 526.3 430.4C530.02 432.72 533.55 434.97 536 436.5C538.45 438.03 539.5 438.52 541 439.6C542.5 440.68 544 441.6 545 443C546 444.4 546.83 446.33 547 448C547.17 449.67 546.75 451.42 546 453C545.25 454.58 543.83 456.45 542.5 457.5C541.17 458.55 538.75 459 538 459.3" />
<path d="M513.7 448.9 L533.4 458.8 L538 459.3" />
<path d="M540.5 444C539.83 444.83 537.37 447.33 536.5 449C535.63 450.67 535.33 452.4 535.3 454C535.27 455.6 536.13 457.83 536.3 458.6" />
<path d="M525.5 430.5C524.83 431.42 522.45 433.92 521.5 436C520.55 438.08 519.88 440.67 519.8 443C519.72 445.33 520.22 448 521 450C521.78 452 523.92 454.17 524.5 455" />
<path d="M526.7 431 L535 435.6" />
<path d="M524.75 434.29 L532.76 438.71" />
<path d="M523.18 437.57 L530.91 441.83" />
<path d="M522.31 440.86 L529.76 444.94" />
<path d="M522.31 444.14 L529.47 448.06" />
<path d="M523.18 447.43 L530.05 451.17" />
<path d="M524.75 450.71 L531.33 454.29" />
<path d="M526.7 454 L533 457.4" />
<ellipse cx="274.3" cy="305" rx="4.2" ry="7.4" transform="rotate(-8 274.3 305)" stroke-width="1.4"/>
<ellipse cx="275.6" cy="305" rx="2.4" ry="5" transform="rotate(-8 275.6 305)"  stroke-width="1.3"/>
<path d="M270.55 297.74C271.32 297.08 273.4 294.89 275.16 293.79C276.91 292.69 279.11 292.04 281.08 291.16C283.05 290.28 285.36 289.18 287 288.53C288.64 287.87 290.29 287.43 290.95 287.21" stroke-width="1.3"/>
<path d="M279.11 294.45C279.87 294.67 282.5 294.89 283.71 295.76C284.92 296.64 285.85 298.07 286.34 299.71C286.84 301.36 286.89 303.88 286.67 305.63C286.45 307.39 285.85 308.92 285.03 310.24C284.2 311.55 282.29 312.98 281.74 313.53" stroke-width="1.3"/>
<path d="M281.74 293.13C282.39 293.46 284.64 294.12 285.68 295.11C286.73 296.09 287.55 297.52 287.99 299.05C288.43 300.59 288.48 302.67 288.32 304.32C288.15 305.96 287.22 308.15 287 308.92" stroke-width="1.3"/>
<path d="M292.26 285.89C293.14 285.65 295.88 284.34 297.53 284.45C299.17 284.56 300.49 285.32 302.13 286.55C303.78 287.78 306.52 290.28 307.39 291.82C308.27 293.35 307.94 294.45 307.39 295.76C306.85 297.08 305.2 299.05 304.11 299.71C303.01 300.37 302.13 300.04 300.82 299.71C299.5 299.38 297.53 298.72 296.21 297.74C294.89 296.75 293.69 295.21 292.92 293.79C292.15 292.36 291.71 290.5 291.61 289.18C291.5 287.87 292.15 286.44 292.26 285.89" stroke-width="1.3"/>
<path d="M298.84 286.55 L306.74 293.79" stroke-width="1.3"/>
<path d="M292.92 293.79C292.48 294.45 290.78 296.2 290.29 297.74C289.8 299.27 289.85 301.14 289.96 303C290.07 304.86 290.78 306.95 290.95 308.92C291.11 310.89 290.95 313.86 290.95 314.84" stroke-width="1.3"/>
<path d="M293.58 303.66 L301.47 306.95" stroke-width="1.3"/>
<path d="M292.59 306.29 L301.8 310.24" stroke-width="1.3"/>
<path d="M291.93 308.92 L300.82 312.87" stroke-width="1.3"/>
<path d="M291.61 311.55 L298.84 315.17" stroke-width="1.3"/>
<path d="M291.93 313.86 L295.88 316.03" stroke-width="1.3"/>
<path d="M292.92 300.37C293.91 300.26 296.98 299.49 298.84 299.71C300.71 299.93 303.23 300.37 304.11 301.68C304.98 303 304.54 305.63 304.11 307.61C303.67 309.58 302.57 312.1 301.47 313.53C300.38 314.95 298.18 315.72 297.53 316.16" stroke-width="1.3"/>
<path d="M279.76 313.53C279.93 314.62 279.65 318.35 280.75 320.11C281.85 321.86 284.31 323.39 286.34 324.05C288.37 324.71 291.06 324.71 292.92 324.05C294.79 323.39 296.67 321.53 297.53 320.11C298.38 318.68 297.96 316.27 298.05 315.5" stroke-width="1.3"/>
<path d="M281.74 314.84C281.96 315.5 282.07 317.8 283.05 318.79C284.04 319.78 286.01 320.54 287.66 320.76C289.3 320.98 291.5 320.65 292.92 320.11C294.35 319.56 295.66 317.91 296.21 317.47" stroke-width="1.3"/>
<path d="M271.21 308.26C271.76 308.92 273.18 311.33 274.5 312.21C275.82 313.09 278.34 313.31 279.11 313.53" stroke-width="1.3"/>
<path d="M324.18 332.78C324.1 332.6 323.83 332.11 323.7 331.74C323.58 331.38 323.47 330.99 323.4 330.58C323.33 330.18 323.29 329.76 323.28 329.33C323.27 328.91 323.29 328.47 323.35 328.03C323.4 327.6 323.48 327.15 323.6 326.72C323.71 326.28 323.85 325.85 324.02 325.43C324.19 325.01 324.39 324.59 324.61 324.2C324.83 323.81 325.08 323.44 325.35 323.08C325.61 322.73 325.9 322.4 326.2 322.1C326.51 321.8 326.83 321.53 327.16 321.29C327.49 321.05 327.83 320.84 328.18 320.66C328.53 320.49 328.89 320.35 329.24 320.25C329.6 320.15 329.96 320.09 330.31 320.06C330.66 320.04 331.01 320.05 331.34 320.1C331.68 320.15 332.01 320.24 332.32 320.37C332.63 320.49 332.93 320.66 333.21 320.86C333.49 321.05 333.75 321.29 333.98 321.55C334.22 321.81 334.43 322.11 334.62 322.42C334.8 322.74 334.97 323.09 335.1 323.46C335.22 323.82 335.33 324.21 335.4 324.62C335.47 325.02 335.51 325.44 335.52 325.87C335.53 326.29 335.51 326.73 335.45 327.17C335.4 327.6 335.32 328.05 335.2 328.48C335.09 328.92 334.95 329.35 334.78 329.77C334.61 330.19 334.41 330.61 334.19 331C333.97 331.39 333.72 331.76 333.45 332.12C333.19 332.47 332.9 332.8 332.6 333.1C332.29 333.4 331.97 333.67 331.64 333.91C331.31 334.15 330.97 334.36 330.62 334.54C330.27 334.71 329.74 334.88 329.56 334.95" stroke-width="1.8"/>
<path d="M325.89 329.9C325.89 329.76 325.85 329.33 325.86 329.03C325.87 328.73 325.9 328.42 325.95 328.11C325.99 327.8 326.06 327.48 326.15 327.17C326.23 326.86 326.34 326.55 326.46 326.25C326.58 325.95 326.72 325.65 326.88 325.37C327.03 325.09 327.2 324.81 327.38 324.56C327.56 324.3 327.76 324.06 327.96 323.84C328.16 323.61 328.37 323.41 328.59 323.23C328.81 323.05 329.04 322.89 329.26 322.76C329.49 322.62 329.72 322.51 329.95 322.43C330.18 322.35 330.41 322.29 330.63 322.26C330.85 322.23 331.18 322.25 331.29 322.25" stroke-width="1.0"/>
<path d="M574.74 441.84C573.33 442.02 569.12 441.93 566.32 442.89C563.51 443.86 560.35 445.61 557.89 447.63C555.44 449.65 553.25 452.19 551.58 455C549.91 457.81 548.6 461.32 547.89 464.47C547.19 467.63 547.11 471.14 547.37 473.95C547.63 476.75 548.25 479.04 549.47 481.32C550.7 483.6 552.81 485.96 554.74 487.63C556.67 489.3 558.91 490.47 561.05 491.32C563.19 492.16 565.91 492.6 567.58 492.68C569.25 492.77 570.47 491.98 571.05 491.84" stroke-width="1.2"/>
<path d="M574.74 441.84 L584.21 446.79" />
<ellipse cx="576.4" cy="469.7" rx="25.4" ry="11.4" transform="rotate(-60 576.4 469.7)" stroke-width="1.2"/>
<ellipse cx="576.2" cy="470.6" rx="21.1" ry="11" transform="rotate(-60 576.2 470.6)" stroke-width="1.1"/>
<ellipse cx="575.6" cy="469.6" rx="17.2" ry="8" transform="rotate(-60 575.6 469.6)" stroke-dasharray="3 1.6"/>
<ellipse cx="576.4" cy="470" rx="13.6" ry="8.8" transform="rotate(-62 576.4 470)" stroke-width="1.2"/>
<ellipse cx="605.8" cy="486.6" rx="13" ry="7.6" transform="rotate(-60 605.8 486.6)" stroke-width="1.1"/>
<path d="M632.44 282.27C630.76 282.55 625.35 282.74 622.37 283.95C619.39 285.16 616.59 287.3 614.54 289.54C612.49 291.78 611 294.57 610.07 297.37C609.13 300.17 608.86 303.52 608.95 306.32C609.04 309.12 609.51 311.91 610.63 314.15C611.74 316.39 613.52 317.88 615.66 319.74C617.8 321.61 620.88 323.94 623.49 325.34C626.1 326.73 628.9 327.76 631.32 328.13C633.74 328.5 636.91 327.67 638.03 327.57" stroke-dasharray="2.2 1.5" stroke-width="0.9"/>
<path d="M632.44 282.27C634.12 282.92 639.52 284.79 642.51 286.19C645.49 287.58 648.28 288.98 650.34 290.66C652.39 292.34 653.88 294.02 654.81 296.25C655.74 298.49 655.93 301.66 655.93 304.08C655.93 306.51 655 309.68 654.81 310.79" stroke-dasharray="2.2 1.5" stroke-width="0.9"/>
<ellipse cx="639.7" cy="309" rx="16.5" ry="18.5" transform="rotate(-20 639.7 309)" stroke-dasharray="2.2 1.5" stroke-width="0.9"/>
<ellipse cx="641.6" cy="310.2" rx="12.6" ry="14.2" transform="rotate(-20 641.6 310.2)" stroke-dasharray="2.2 1.5" stroke-width="0.9"/>
<path d="M640 302C641 301.75 644.17 300.33 646 300.5C647.83 300.67 649.75 301.75 651 303C652.25 304.25 653.17 306.17 653.5 308C653.83 309.83 653.58 312.08 653 314C652.42 315.92 651.33 318.17 650 319.5C648.67 320.83 646.67 321.75 645 322C643.33 322.25 641.25 322 640 321C638.75 320 637.92 318.17 637.5 316C637.08 313.83 637.08 310.33 637.5 308C637.92 305.67 639.58 303 640 302" stroke-width="0.9"/>
<ellipse cx="646.5" cy="311.3" rx="5.6" ry="7.8" transform="rotate(-20 646.5 311.3)" stroke-width="0.9"/>
<path d="M633.56 311.91 L633.56 317.51" /><path d="M635.79 310.79 L635.79 318.62" /><path d="M638.03 310.23 L638.03 319.18" />
<ellipse cx="665.5" cy="324.3" rx="12.2" ry="9.6" transform="rotate(-62 665.5 324.3)" stroke-dasharray="2.4 1.2" stroke-width="0.95"/><ellipse cx="666.4" cy="324.6" rx="10" ry="7" transform="rotate(-62 666.4 324.6)" stroke-dasharray="2.4 1.2" stroke-width="0.95"/>
<path d="M469.3 626.1C467.95 626.57 463.63 627.22 461.2 628.9C458.77 630.58 456.32 633.63 454.7 636.2C453.08 638.77 452.23 641.6 451.5 644.3C450.77 647 450.37 649.85 450.3 652.4C450.23 654.95 450.5 657.58 451.1 659.6C451.7 661.62 453.17 663.02 453.9 664.5C454.63 665.98 454.83 667.42 455.5 668.5C456.17 669.58 457.08 670.65 457.9 671C458.72 671.35 459.65 671.28 460.4 670.6C461.15 669.92 461.93 667.92 462.4 666.9C462.87 665.88 463.07 664.9 463.2 664.5" stroke-width="1.35"/>
<path d="M469.3 626.1C470.25 626.25 473.32 626.02 475 627C476.68 627.98 478.47 630.2 479.4 632C480.33 633.8 480.47 635.88 480.6 637.8C480.73 639.72 480.6 641.62 480.2 643.5C479.8 645.38 479.08 647.35 478.2 649.1C477.32 650.85 475.98 652.92 474.9 654C473.82 655.08 472.63 654.93 471.7 655.6C470.77 656.27 469.57 656.65 469.3 658C469.03 659.35 469.57 662.48 470.1 663.7C470.63 664.92 471.57 665.3 472.5 665.3C473.43 665.3 475.17 665.05 475.7 663.7C476.23 662.35 475.7 658.28 475.7 657.2" stroke-width="1.35"/>
<path d="M474.1 630.9C473.03 631.03 469.85 630.95 467.7 631.7C465.55 632.45 462.97 633.72 461.2 635.4C459.43 637.08 458.05 639.38 457.1 641.8C456.15 644.22 455.63 647.47 455.5 649.9C455.37 652.33 455.75 654.63 456.3 656.4C456.85 658.17 457.72 659.22 458.8 660.5C459.88 661.78 462.13 663.5 462.8 664.1" stroke-width="1.35"/>
<path d="M474.1 630.9C474.5 631.42 475.98 632.48 476.5 634C477.02 635.52 477.28 638 477.2 640C477.12 642 476.7 644.17 476 646C475.3 647.83 474 649.67 473 651C472 652.33 470.5 653.5 470 654" stroke-width="1.35"/>
<path d="M472.5 657C472.55 657.67 472.47 659.92 472.8 661C473.13 662.08 474.22 663.08 474.5 663.5" stroke-width="1.35"/>
<rect x="464.3" y="679.5" width="6.8" height="11.5" rx="1" ry="1" stroke-width="1.3"/>
<path d="M464.3 684 L471 684M464.3 687.6H471" />
<path d="M461.5 691C461.18 691.42 459.92 692.5 459.6 693.5C459.28 694.5 459.28 695.98 459.6 697C459.92 698.02 459.1 699.17 461.5 699.6C463.9 700.03 471.62 700.03 474 699.6C476.38 699.17 475.5 698.02 475.8 697C476.1 695.98 476.1 694.5 475.8 693.5C475.5 692.5 476.38 691.42 474 691C471.62 690.58 463.58 691 461.5 691C459.42 691 461.82 690.58 461.5 691Z" stroke-width="1.4"/>
<path d="M464 692C464.62 692.42 466.45 694.5 467.7 694.5C468.95 694.5 470.87 692.42 471.5 692" />
<path d="M461.2 699.6C461.23 700.33 460.93 702.8 461.4 704C461.87 705.2 462.95 706.23 464 706.8C465.05 707.37 466.47 707.4 467.7 707.4C468.93 707.4 470.35 707.37 471.4 706.8C472.45 706.23 473.53 705.2 474 704C474.47 702.8 474.17 700.33 474.2 699.6" stroke-width="1.4"/>
<path d="M467.7 699.8 L467.7 707" />
<ellipse cx="592.8" cy="684.2" rx="28.1" ry="22.7" transform="rotate(-63 592.8 684.2)" stroke-width="1.3"/>
<path d="M577.44 703.95C577.1 703.52 576.01 702.32 575.41 701.4C574.8 700.48 574.27 699.47 573.82 698.42C573.37 697.37 573 696.25 572.72 695.09C572.44 693.94 572.25 692.73 572.14 691.5C572.04 690.27 572.02 689 572.09 687.72C572.16 686.45 572.33 685.15 572.57 683.87C572.82 682.59 573.16 681.29 573.57 680.03C573.99 678.77 574.82 676.92 575.07 676.3" stroke-width="1.1"/>
<path d="M597.14 660.23C597.61 660.27 599.05 660.3 599.98 660.45C600.9 660.6 601.81 660.84 602.68 661.14C603.55 661.45 604.4 661.83 605.19 662.28C605.99 662.74 606.76 663.27 607.47 663.86C608.19 664.45 608.86 665.12 609.48 665.84C610.09 666.56 610.66 667.35 611.16 668.18C611.66 669.01 612.11 669.91 612.49 670.84C612.87 671.77 613.28 673.28 613.44 673.76" stroke-width="1.1"/>
<ellipse cx="592.6" cy="682.8" rx="18.8" ry="13.3" transform="rotate(-63 592.6 682.8)" stroke-width="1.2"/>
<path d="M601.11 690.82C600.82 691.2 599.99 692.38 599.38 693.08C598.77 693.78 598.12 694.45 597.45 695.04C596.78 695.63 596.08 696.17 595.37 696.64C594.66 697.1 593.93 697.51 593.2 697.83C592.47 698.15 591.73 698.4 591.01 698.57C590.28 698.75 589.56 698.84 588.86 698.85C588.17 698.87 587.48 698.8 586.83 698.66C586.18 698.51 585.55 698.29 584.96 697.99C584.38 697.69 583.83 697.32 583.33 696.88C582.83 696.43 582.37 695.92 581.97 695.34C581.58 694.77 581.23 694.13 580.94 693.44C580.65 692.76 580.42 692.01 580.26 691.23C580.09 690.46 579.98 689.62 579.94 688.78C579.9 687.93 579.93 687.04 580.01 686.15C580.1 685.26 580.25 684.34 580.46 683.44C580.67 682.53 580.95 681.61 581.28 680.72C581.6 679.82 582 678.93 582.43 678.07C582.87 677.21 583.36 676.37 583.89 675.58C584.42 674.79 585.01 674.02 585.62 673.32C586.23 672.62 586.88 671.95 587.55 671.36C588.22 670.77 588.92 670.23 589.63 669.76C590.34 669.3 591.07 668.89 591.8 668.57C592.53 668.25 593.63 667.95 593.99 667.83" stroke-width="1.0" stroke-dasharray="5 1.5"/>
<ellipse cx="592.5" cy="683.6" rx="14.3" ry="7.6" transform="rotate(-63 592.5 683.6)" stroke-width="1.2"/>
<path d="M600.49 673C600.59 673.21 600.95 673.8 601.11 674.27C601.27 674.75 601.39 675.29 601.46 675.86C601.53 676.43 601.55 677.06 601.52 677.71C601.5 678.37 601.42 679.06 601.3 679.77C601.19 680.48 601.02 681.22 600.81 681.96C600.6 682.69 600.34 683.46 600.05 684.2C599.76 684.94 599.42 685.7 599.06 686.42C598.69 687.15 598.06 688.19 597.86 688.55" stroke-width="1.6"/></g><g stroke="#000" fill="none"><path d="M271.31 1030.3C271.15 1030.21 270.64 1029.99 270.34 1029.78C270.03 1029.58 269.74 1029.34 269.47 1029.07C269.2 1028.8 268.95 1028.5 268.73 1028.18C268.51 1027.85 268.32 1027.5 268.15 1027.13C267.98 1026.77 267.84 1026.38 267.74 1025.98C267.63 1025.58 267.55 1025.16 267.51 1024.73C267.46 1024.31 267.45 1023.88 267.47 1023.45C267.49 1023.02 267.54 1022.59 267.62 1022.17C267.71 1021.75 267.82 1021.32 267.97 1020.92C268.11 1020.52 268.29 1020.13 268.49 1019.76C268.69 1019.38 268.92 1019.03 269.17 1018.7C269.42 1018.38 269.7 1018.07 269.99 1017.8C270.28 1017.52 270.6 1017.28 270.92 1017.07C271.25 1016.86 271.59 1016.68 271.94 1016.54C272.29 1016.4 272.65 1016.29 273.01 1016.22C273.37 1016.16 273.74 1016.13 274.1 1016.13C274.46 1016.14 274.82 1016.19 275.17 1016.27C275.52 1016.36 275.87 1016.48 276.2 1016.64C276.52 1016.79 276.84 1016.99 277.14 1017.21C277.43 1017.44 277.71 1017.7 277.97 1017.99C278.22 1018.27 278.46 1018.59 278.66 1018.93C278.87 1019.26 279.05 1019.63 279.2 1020.01C279.34 1020.39 279.47 1020.79 279.55 1021.2C279.64 1021.6 279.7 1022.03 279.73 1022.45C279.75 1022.88 279.74 1023.31 279.7 1023.74C279.66 1024.17 279.59 1024.6 279.49 1025.02C279.39 1025.43 279.25 1025.85 279.09 1026.24C278.93 1026.64 278.74 1027.02 278.52 1027.38C278.3 1027.74 277.91 1028.22 277.79 1028.39" stroke-width="1.3"/><path d="M271.94 1028.45C271.84 1028.37 271.54 1028.14 271.37 1027.95C271.19 1027.76 271.03 1027.55 270.89 1027.32C270.74 1027.09 270.61 1026.84 270.5 1026.57C270.4 1026.31 270.3 1026.03 270.23 1025.74C270.16 1025.46 270.11 1025.15 270.09 1024.85C270.06 1024.55 270.05 1024.23 270.06 1023.92C270.07 1023.61 270.11 1023.3 270.16 1022.99C270.22 1022.68 270.29 1022.37 270.39 1022.08C270.48 1021.78 270.6 1021.49 270.73 1021.21C270.86 1020.94 271.01 1020.67 271.17 1020.42C271.34 1020.18 271.52 1019.95 271.71 1019.74C271.9 1019.53 272.11 1019.33 272.32 1019.17C272.54 1019 272.76 1018.86 272.99 1018.74C273.22 1018.62 273.46 1018.53 273.7 1018.46C273.94 1018.39 274.18 1018.35 274.42 1018.34C274.66 1018.33 274.9 1018.34 275.14 1018.38C275.37 1018.42 275.6 1018.49 275.82 1018.59C276.05 1018.68 276.26 1018.8 276.46 1018.95C276.66 1019.09 276.86 1019.26 277.03 1019.45C277.21 1019.64 277.37 1019.85 277.51 1020.08C277.66 1020.31 277.79 1020.56 277.9 1020.83C278 1021.09 278.12 1021.52 278.17 1021.66" stroke-width="1.5"/><path d="M271.47 1030.34 L273.3 1028.66" stroke-width="1.3"/><path d="M575.98 1018.91C575.82 1018.82 575.34 1018.61 575.04 1018.41C574.74 1018.21 574.46 1017.98 574.2 1017.72C573.94 1017.46 573.7 1017.16 573.49 1016.85C573.27 1016.54 573.08 1016.19 572.92 1015.84C572.76 1015.48 572.63 1015.1 572.52 1014.71C572.42 1014.32 572.35 1013.91 572.3 1013.5C572.26 1013.09 572.25 1012.67 572.27 1012.26C572.29 1011.84 572.34 1011.42 572.42 1011.01C572.5 1010.6 572.61 1010.19 572.75 1009.8C572.89 1009.4 573.06 1009.02 573.26 1008.66C573.45 1008.3 573.68 1007.95 573.92 1007.64C574.16 1007.32 574.43 1007.02 574.71 1006.75C575 1006.49 575.3 1006.25 575.62 1006.04C575.93 1005.84 576.27 1005.67 576.6 1005.53C576.94 1005.39 577.29 1005.29 577.64 1005.22C577.99 1005.16 578.34 1005.13 578.69 1005.13C579.04 1005.14 579.39 1005.19 579.73 1005.27C580.07 1005.35 580.4 1005.47 580.72 1005.62C581.03 1005.77 581.34 1005.96 581.63 1006.18C581.91 1006.4 582.19 1006.65 582.43 1006.93C582.68 1007.21 582.9 1007.52 583.1 1007.85C583.3 1008.17 583.47 1008.53 583.62 1008.9C583.76 1009.26 583.88 1009.66 583.96 1010.05C584.05 1010.45 584.1 1010.86 584.13 1011.27C584.15 1011.69 584.14 1012.11 584.1 1012.53C584.07 1012.94 584 1013.36 583.9 1013.77C583.8 1014.17 583.67 1014.58 583.51 1014.96C583.35 1015.34 583.17 1015.72 582.96 1016.07C582.75 1016.41 582.37 1016.89 582.25 1017.05" stroke-width="1.3"/><path d="M576.64 1017.08C576.55 1017 576.26 1016.78 576.1 1016.6C575.93 1016.41 575.78 1016.21 575.64 1015.99C575.5 1015.77 575.38 1015.53 575.28 1015.27C575.17 1015.02 575.09 1014.75 575.02 1014.47C574.96 1014.2 574.91 1013.91 574.88 1013.62C574.86 1013.32 574.85 1013.02 574.86 1012.72C574.87 1012.42 574.91 1012.12 574.96 1011.82C575.01 1011.53 575.08 1011.23 575.17 1010.94C575.26 1010.66 575.37 1010.38 575.5 1010.11C575.62 1009.85 575.77 1009.59 575.93 1009.35C576.08 1009.12 576.26 1008.89 576.44 1008.69C576.62 1008.49 576.82 1008.3 577.02 1008.14C577.23 1007.98 577.44 1007.84 577.66 1007.73C577.88 1007.61 578.11 1007.52 578.33 1007.46C578.56 1007.39 578.79 1007.35 579.02 1007.34C579.25 1007.33 579.48 1007.34 579.7 1007.38C579.93 1007.42 580.15 1007.48 580.36 1007.57C580.57 1007.66 580.77 1007.78 580.96 1007.92C581.15 1008.06 581.34 1008.22 581.5 1008.4C581.67 1008.59 581.82 1008.79 581.96 1009.01C582.1 1009.23 582.22 1009.47 582.32 1009.73C582.43 1009.98 582.54 1010.39 582.58 1010.53" stroke-width="1.5"/><path d="M576.13 1018.95 L577.91 1017.31" stroke-width="1.3"/></g>
<text transform="translate(352.77,29.88) scale(1.000,1)" font-family="Liberation Serif" font-weight="bold" font-size="21.93" stroke="#000" stroke-width="0.5">4</text><text transform="translate(365.34,29.88) scale(1.000,1)" font-family="Liberation Serif" font-weight="bold" font-size="21.93" stroke="#000" stroke-width="0.5">3</text><text transform="translate(378.12,29.88) scale(1.000,1)" font-family="Liberation Serif" font-weight="bold" font-size="21.93" stroke="#000" stroke-width="0.5">4</text><text transform="translate(390.41,29.88) scale(1.000,1)" font-family="Liberation Serif" font-weight="bold" font-size="21.93" stroke="#000" stroke-width="0.5">1</text><text transform="translate(403.41,29.88) scale(1.000,1)" font-family="Liberation Serif" font-weight="bold" font-size="21.93" stroke="#000" stroke-width="0.5">0</text>
<text transform="translate(423.77,143.48) scale(1.000,1)" font-family="Liberation Serif" font-weight="bold" font-size="22.09" stroke="#000" stroke-width="0.5">4</text><text transform="translate(436.41,143.48) scale(1.000,1)" font-family="Liberation Serif" font-weight="bold" font-size="22.09" stroke="#000" stroke-width="0.5">3</text><text transform="translate(449.27,143.48) scale(1.000,1)" font-family="Liberation Serif" font-weight="bold" font-size="22.09" stroke="#000" stroke-width="0.5">4</text><text transform="translate(462.03,143.48) scale(1.000,1)" font-family="Liberation Serif" font-weight="bold" font-size="22.09" stroke="#000" stroke-width="0.5">4</text><text transform="translate(474.39,143.48) scale(1.000,1)" font-family="Liberation Serif" font-weight="bold" font-size="22.09" stroke="#000" stroke-width="0.5">7</text><text transform="translate(486.93,143.48) scale(0.791,1)" font-family="Liberation Serif" font-weight="bold" font-size="22.09" stroke="#000" stroke-width="0.5">C</text>
<text transform="translate(322.69,231.79) scale(1.000,1)" font-family="Liberation Serif" font-weight="bold" font-size="20.90" stroke="#000" stroke-width="0.5">4</text><text transform="translate(335.17,231.79) scale(1.000,1)" font-family="Liberation Serif" font-weight="bold" font-size="20.90" stroke="#000" stroke-width="0.5">3</text><text transform="translate(347.86,231.79) scale(1.000,1)" font-family="Liberation Serif" font-weight="bold" font-size="20.90" stroke="#000" stroke-width="0.5">4</text><text transform="translate(360.45,231.79) scale(1.000,1)" font-family="Liberation Serif" font-weight="bold" font-size="20.90" stroke="#000" stroke-width="0.5">4</text><text transform="translate(372.67,231.79) scale(1.000,1)" font-family="Liberation Serif" font-weight="bold" font-size="20.90" stroke="#000" stroke-width="0.5">7</text><text transform="translate(385.28,231.79) scale(0.760,1)" font-family="Liberation Serif" font-weight="bold" font-size="20.90" stroke="#000" stroke-width="0.5">D</text>
<text transform="translate(649.18,210.39) scale(1.000,1)" font-family="Liberation Serif" font-weight="bold" font-size="21.04" stroke="#000" stroke-width="0.5">4</text><text transform="translate(661.74,210.39) scale(1.000,1)" font-family="Liberation Serif" font-weight="bold" font-size="21.04" stroke="#000" stroke-width="0.5">3</text><text transform="translate(674.51,210.39) scale(1.000,1)" font-family="Liberation Serif" font-weight="bold" font-size="21.04" stroke="#000" stroke-width="0.5">4</text><text transform="translate(686.80,210.39) scale(1.000,1)" font-family="Liberation Serif" font-weight="bold" font-size="21.04" stroke="#000" stroke-width="0.5">7</text><text transform="translate(699.83,210.39) scale(1.000,1)" font-family="Liberation Serif" font-weight="bold" font-size="21.04" stroke="#000" stroke-width="0.5">4</text><text transform="translate(712.22,210.39) scale(0.899,1)" font-family="Liberation Serif" font-weight="bold" font-size="21.04" stroke="#000" stroke-width="0.5">F</text>
<text transform="translate(602.68,252.29) scale(1.000,1)" font-family="Liberation Serif" font-weight="bold" font-size="21.19" stroke="#000" stroke-width="0.5">4</text><text transform="translate(615.13,252.29) scale(1.000,1)" font-family="Liberation Serif" font-weight="bold" font-size="21.19" stroke="#000" stroke-width="0.5">3</text><text transform="translate(627.79,252.29) scale(1.000,1)" font-family="Liberation Serif" font-weight="bold" font-size="21.19" stroke="#000" stroke-width="0.5">4</text><text transform="translate(639.97,252.29) scale(1.000,1)" font-family="Liberation Serif" font-weight="bold" font-size="21.19" stroke="#000" stroke-width="0.5">7</text><text transform="translate(652.90,252.29) scale(1.000,1)" font-family="Liberation Serif" font-weight="bold" font-size="21.19" stroke="#000" stroke-width="0.5">4</text><text transform="translate(665.18,252.29) scale(0.749,1)" font-family="Liberation Serif" font-weight="bold" font-size="21.19" stroke="#000" stroke-width="0.5">D</text>
<text transform="translate(49.58,266.29) scale(1.000,1)" font-family="Liberation Serif" font-weight="bold" font-size="21.04" stroke="#000" stroke-width="0.5">4</text><text transform="translate(62.20,266.29) scale(1.000,1)" font-family="Liberation Serif" font-weight="bold" font-size="21.04" stroke="#000" stroke-width="0.5">3</text><text transform="translate(75.03,266.29) scale(1.000,1)" font-family="Liberation Serif" font-weight="bold" font-size="21.04" stroke="#000" stroke-width="0.5">4</text><text transform="translate(87.75,266.29) scale(1.000,1)" font-family="Liberation Serif" font-weight="bold" font-size="21.04" stroke="#000" stroke-width="0.5">4</text><text transform="translate(100.42,266.29) scale(1.000,1)" font-family="Liberation Serif" font-weight="bold" font-size="21.04" stroke="#000" stroke-width="0.5">8</text><text transform="translate(112.33,266.29) scale(0.831,1)" font-family="Liberation Serif" font-weight="bold" font-size="21.04" stroke="#000" stroke-width="0.5">C</text>
<rect x="293.8" y="254.6" width="77.4" height="18.1" fill="#fff"/>
<text transform="translate(295.48,270.49) scale(1.000,1)" font-family="Liberation Serif" font-weight="bold" font-size="21.04" stroke="#000" stroke-width="0.5">4</text><text transform="translate(308.04,270.49) scale(1.000,1)" font-family="Liberation Serif" font-weight="bold" font-size="21.04" stroke="#000" stroke-width="0.5">3</text><text transform="translate(320.81,270.49) scale(1.000,1)" font-family="Liberation Serif" font-weight="bold" font-size="21.04" stroke="#000" stroke-width="0.5">4</text><text transform="translate(333.10,270.49) scale(1.000,1)" font-family="Liberation Serif" font-weight="bold" font-size="21.04" stroke="#000" stroke-width="0.5">1</text><text transform="translate(345.76,270.49) scale(1.000,1)" font-family="Liberation Serif" font-weight="bold" font-size="21.04" stroke="#000" stroke-width="0.5">1</text><text transform="translate(358.54,270.49) scale(0.824,1)" font-family="Liberation Serif" font-weight="bold" font-size="21.04" stroke="#000" stroke-width="0.5">E</text>
<text transform="translate(166.60,347.90) scale(1.000,1)" font-family="Liberation Serif" font-weight="bold" font-size="20.15" stroke="#000" stroke-width="0.5">4</text><text transform="translate(179.06,347.90) scale(1.000,1)" font-family="Liberation Serif" font-weight="bold" font-size="20.15" stroke="#000" stroke-width="0.5">3</text><text transform="translate(191.72,347.90) scale(1.000,1)" font-family="Liberation Serif" font-weight="bold" font-size="20.15" stroke="#000" stroke-width="0.5">4</text><text transform="translate(204.29,347.90) scale(1.000,1)" font-family="Liberation Serif" font-weight="bold" font-size="20.15" stroke="#000" stroke-width="0.5">4</text><text transform="translate(216.80,347.90) scale(1.000,1)" font-family="Liberation Serif" font-weight="bold" font-size="20.15" stroke="#000" stroke-width="0.5">8</text><text transform="translate(228.94,347.90) scale(0.860,1)" font-family="Liberation Serif" font-weight="bold" font-size="20.15" stroke="#000" stroke-width="0.5">E</text>
<text transform="translate(307.37,457.28) scale(1.000,1)" font-family="Liberation Serif" font-weight="bold" font-size="21.93" stroke="#000" stroke-width="0.5">4</text><text transform="translate(319.94,457.28) scale(1.000,1)" font-family="Liberation Serif" font-weight="bold" font-size="21.93" stroke="#000" stroke-width="0.5">3</text><text transform="translate(332.67,457.28) scale(1.000,1)" font-family="Liberation Serif" font-weight="bold" font-size="21.93" stroke="#000" stroke-width="0.5">0</text><text transform="translate(345.28,457.28) scale(1.000,1)" font-family="Liberation Serif" font-weight="bold" font-size="21.93" stroke="#000" stroke-width="0.5">3</text><text transform="translate(358.01,457.28) scale(1.000,1)" font-family="Liberation Serif" font-weight="bold" font-size="21.93" stroke="#000" stroke-width="0.5">0</text>
<text transform="translate(540.58,421.79) scale(1.000,1)" font-family="Liberation Serif" font-weight="bold" font-size="21.19" stroke="#000" stroke-width="0.5">4</text><text transform="translate(553.19,421.79) scale(1.000,1)" font-family="Liberation Serif" font-weight="bold" font-size="21.19" stroke="#000" stroke-width="0.5">3</text><text transform="translate(566.01,421.79) scale(1.000,1)" font-family="Liberation Serif" font-weight="bold" font-size="21.19" stroke="#000" stroke-width="0.5">4</text><text transform="translate(578.36,421.79) scale(1.000,1)" font-family="Liberation Serif" font-weight="bold" font-size="21.19" stroke="#000" stroke-width="0.5">1</text><text transform="translate(591.39,421.79) scale(1.000,1)" font-family="Liberation Serif" font-weight="bold" font-size="21.19" stroke="#000" stroke-width="0.5">0</text><text transform="translate(603.33,421.79) scale(0.825,1)" font-family="Liberation Serif" font-weight="bold" font-size="21.19" stroke="#000" stroke-width="0.5">C</text>
<rect x="562.2" y="523.3" width="77.2" height="18.2" fill="#fff"/>
<text transform="translate(563.88,539.29) scale(1.000,1)" font-family="Liberation Serif" font-weight="bold" font-size="21.04" stroke="#000" stroke-width="0.5">4</text><text transform="translate(576.40,539.29) scale(1.000,1)" font-family="Liberation Serif" font-weight="bold" font-size="21.04" stroke="#000" stroke-width="0.5">3</text><text transform="translate(589.13,539.29) scale(1.000,1)" font-family="Liberation Serif" font-weight="bold" font-size="21.04" stroke="#000" stroke-width="0.5">4</text><text transform="translate(601.38,539.29) scale(1.000,1)" font-family="Liberation Serif" font-weight="bold" font-size="21.04" stroke="#000" stroke-width="0.5">1</text><text transform="translate(614.32,539.29) scale(1.000,1)" font-family="Liberation Serif" font-weight="bold" font-size="21.04" stroke="#000" stroke-width="0.5">0</text><text transform="translate(626.70,539.29) scale(0.716,1)" font-family="Liberation Serif" font-weight="bold" font-size="21.04" stroke="#000" stroke-width="0.5">N</text>
<text transform="translate(508.58,646.29) scale(1.000,1)" font-family="Liberation Serif" font-weight="bold" font-size="21.19" stroke="#000" stroke-width="0.5">4</text><text transform="translate(521.09,646.29) scale(1.000,1)" font-family="Liberation Serif" font-weight="bold" font-size="21.19" stroke="#000" stroke-width="0.5">3</text><text transform="translate(533.81,646.29) scale(1.000,1)" font-family="Liberation Serif" font-weight="bold" font-size="21.19" stroke="#000" stroke-width="0.5">4</text><text transform="translate(546.32,646.29) scale(1.000,1)" font-family="Liberation Serif" font-weight="bold" font-size="21.19" stroke="#000" stroke-width="0.5">5</text><text transform="translate(558.67,646.29) scale(1.000,1)" font-family="Liberation Serif" font-weight="bold" font-size="21.19" stroke="#000" stroke-width="0.5">7</text><text transform="translate(571.45,646.29) scale(0.785,1)" font-family="Liberation Serif" font-weight="bold" font-size="21.19" stroke="#000" stroke-width="0.5">B</text>
<text transform="translate(362.58,699.89) scale(1.000,1)" font-family="Liberation Serif" font-weight="bold" font-size="21.19" stroke="#000" stroke-width="0.5">4</text><text transform="translate(375.17,699.89) scale(1.000,1)" font-family="Liberation Serif" font-weight="bold" font-size="21.19" stroke="#000" stroke-width="0.5">3</text><text transform="translate(387.97,699.89) scale(1.000,1)" font-family="Liberation Serif" font-weight="bold" font-size="21.19" stroke="#000" stroke-width="0.5">4</text><text transform="translate(400.56,699.89) scale(1.000,1)" font-family="Liberation Serif" font-weight="bold" font-size="21.19" stroke="#000" stroke-width="0.5">5</text><text transform="translate(412.99,699.89) scale(1.000,1)" font-family="Liberation Serif" font-weight="bold" font-size="21.19" stroke="#000" stroke-width="0.5">7</text><text transform="translate(425.95,699.89) scale(0.696,1)" font-family="Liberation Serif" font-weight="bold" font-size="21.19" stroke="#000" stroke-width="0.5">A</text>
<text transform="translate(644.69,696.39) scale(1.000,1)" font-family="Liberation Serif" font-weight="bold" font-size="20.89" stroke="#000" stroke-width="0.5">4</text><text transform="translate(657.37,696.39) scale(1.000,1)" font-family="Liberation Serif" font-weight="bold" font-size="20.89" stroke="#000" stroke-width="0.5">3</text><text transform="translate(670.26,696.39) scale(1.000,1)" font-family="Liberation Serif" font-weight="bold" font-size="20.89" stroke="#000" stroke-width="0.5">4</text><text transform="translate(682.69,696.39) scale(1.000,1)" font-family="Liberation Serif" font-weight="bold" font-size="20.89" stroke="#000" stroke-width="0.5">1</text><text transform="translate(695.79,696.39) scale(1.000,1)" font-family="Liberation Serif" font-weight="bold" font-size="20.89" stroke="#000" stroke-width="0.5">0</text><text transform="translate(708.43,696.39) scale(0.553,1)" font-family="Liberation Serif" font-weight="bold" font-size="20.89" stroke="#000" stroke-width="0.5">M</text>
<text transform="translate(168.06,724.29) scale(1.000,1)" font-family="Liberation Serif" font-weight="bold" font-size="21.04" stroke="#000" stroke-width="0.5">0</text><text transform="translate(180.99,724.29) scale(1.000,1)" font-family="Liberation Serif" font-weight="bold" font-size="21.04" stroke="#000" stroke-width="0.5">4</text><text transform="translate(193.86,724.29) scale(1.000,1)" font-family="Liberation Serif" font-weight="bold" font-size="21.04" stroke="#000" stroke-width="0.5">4</text><text transform="translate(206.64,724.29) scale(1.000,1)" font-family="Liberation Serif" font-weight="bold" font-size="21.04" stroke="#000" stroke-width="0.5">3</text><text transform="translate(219.56,724.29) scale(1.000,1)" font-family="Liberation Serif" font-weight="bold" font-size="21.04" stroke="#000" stroke-width="0.5">8</text><text transform="translate(232.22,724.29) scale(0.899,1)" font-family="Liberation Serif" font-weight="bold" font-size="21.04" stroke="#000" stroke-width="0.5">F</text>
<text transform="translate(479.78,724.29) scale(1.000,1)" font-family="Liberation Serif" font-weight="bold" font-size="21.04" stroke="#000" stroke-width="0.5">4</text><text transform="translate(492.35,724.29) scale(1.000,1)" font-family="Liberation Serif" font-weight="bold" font-size="21.04" stroke="#000" stroke-width="0.5">3</text><text transform="translate(505.13,724.29) scale(1.000,1)" font-family="Liberation Serif" font-weight="bold" font-size="21.04" stroke="#000" stroke-width="0.5">4</text><text transform="translate(517.70,724.29) scale(1.000,1)" font-family="Liberation Serif" font-weight="bold" font-size="21.04" stroke="#000" stroke-width="0.5">6</text><text transform="translate(530.42,724.29) scale(1.000,1)" font-family="Liberation Serif" font-weight="bold" font-size="21.04" stroke="#000" stroke-width="0.5">0</text>
<text transform="translate(170.75,895.49) scale(1.000,1)" font-family="Liberation Serif" font-weight="bold" font-size="21.33" stroke="#000" stroke-width="0.5">0</text><text transform="translate(183.72,895.49) scale(1.000,1)" font-family="Liberation Serif" font-weight="bold" font-size="21.33" stroke="#000" stroke-width="0.5">4</text><text transform="translate(196.65,895.49) scale(1.000,1)" font-family="Liberation Serif" font-weight="bold" font-size="21.33" stroke="#000" stroke-width="0.5">4</text><text transform="translate(209.47,895.49) scale(1.000,1)" font-family="Liberation Serif" font-weight="bold" font-size="21.33" stroke="#000" stroke-width="0.5">3</text><text transform="translate(222.44,895.49) scale(1.000,1)" font-family="Liberation Serif" font-weight="bold" font-size="21.33" stroke="#000" stroke-width="0.5">8</text><text transform="translate(234.76,895.49) scale(0.696,1)" font-family="Liberation Serif" font-weight="bold" font-size="21.33" stroke="#000" stroke-width="0.5">G</text>
<text transform="translate(641.24,209.80) scale(0.4175,1)" font-family="Liberation Sans" font-weight="normal" font-size="17.83" fill="#000">1</text>
<text transform="translate(596.03,250.80) scale(0.4049,1)" font-family="Liberation Sans" font-weight="normal" font-size="15.51" fill="#000">1</text>
<text transform="translate(697.54,1100.83) scale(0.8515,1)" font-family="Liberation Sans" font-weight="normal" font-size="16.90" fill="#000">431855I</text>
<text transform="translate(615.91,68.69) scale(1.0134,1)" font-family="Liberation Sans" font-weight="normal" font-size="14.33" fill="#000">1(0809</text>
<text transform="translate(669.41,68.69) scale(1.0346,1)" font-family="Liberation Sans" font-weight="normal" font-size="14.33" fill="#000">0812)</text>
<g font-family="Liberation Sans"><g stroke="#000" stroke-width="1.1" fill="none"><path d="M626.3 198.7L636.9 209.3M636.9 198.7L626.3 209.3"/></g><g fill="#000"><circle cx="625.7" cy="204.0" r="1"/><circle cx="637.5" cy="204.0" r="1"/><circle cx="631.6" cy="198.1" r="1"/><circle cx="631.6" cy="209.9" r="1"/></g><g stroke="#000" stroke-width="1.1" fill="none"><path d="M580.5 240.7L591.1 251.3M591.1 240.7L580.5 251.3"/></g><g fill="#000"><circle cx="579.9" cy="246.0" r="1"/><circle cx="591.7" cy="246.0" r="1"/><circle cx="585.8" cy="240.1" r="1"/><circle cx="585.8" cy="251.9" r="1"/></g><g stroke="#000" stroke-width="1.1" fill="none"><path d="M603.9 59.7L614.5 70.3M614.5 59.7L603.9 70.3"/></g><g fill="#000"><circle cx="603.3" cy="65.0" r="1"/><circle cx="615.1" cy="65.0" r="1"/><circle cx="609.2" cy="59.1" r="1"/><circle cx="609.2" cy="70.9" r="1"/></g><path d="M662 65.5H669" stroke="#000" stroke-width="1.1" stroke-dasharray="1 1.2"/></g>
</svg>
</body></html>
